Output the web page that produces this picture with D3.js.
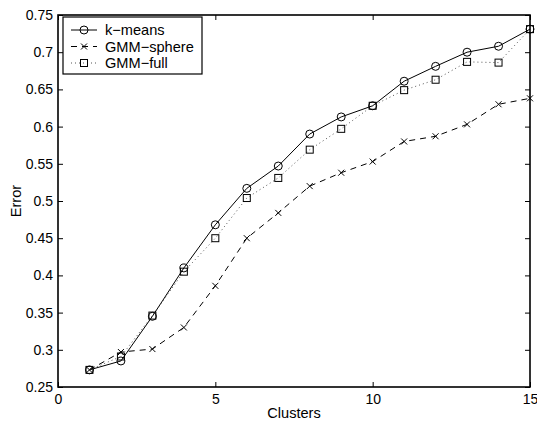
<!DOCTYPE html>
<html>
<head>
<meta charset="utf-8">
<script src="https://cdn.jsdelivr.net/npm/d3@7"></script>
<style>
  body { margin: 0; background: #fff; }
  text { font-family: "Liberation Sans", Arial, sans-serif; fill: #000; }
</style>
</head>
<body>
<div id="chart"></div>
<script>
// data
var clusters = [1, 2, 3, 4, 5, 6, 7, 8, 9, 10, 11, 12, 13, 14, 15];
var kmeans = [0.273, 0.285, 0.345, 0.410, 0.468, 0.517, 0.547, 0.590, 0.613, 0.628, 0.661, 0.681, 0.700, 0.708, 0.731];
var gmmSphere = [0.273, 0.297, 0.301, 0.330, 0.386, 0.450, 0.484, 0.520, 0.538, 0.553, 0.580, 0.587, 0.603, 0.630, 0.638];
var gmmFull = [0.273, 0.291, 0.346, 0.405, 0.450, 0.504, 0.531, 0.569, 0.597, 0.628, 0.649, 0.663, 0.687, 0.686, 0.731];
var seriesNames = ["k\u2212means", "GMM\u2212sphere", "GMM\u2212full"];
var xTicks = [0, 5, 10, 15];
var yTicks = [0.25, 0.3, 0.35, 0.4, 0.45, 0.5, 0.55, 0.6, 0.65, 0.7, 0.75];

var svgWidth = 537, svgHeight = 426;
var margin = { top: 15, right: 7, bottom: 39, left: 58 };
var width = svgWidth - margin.left - margin.right;
var height = svgHeight - margin.top - margin.bottom;

var svg = d3.select("#chart").append("svg")
  .attr("width", svgWidth)
  .attr("height", svgHeight);

var g = svg.append("g")
  .attr("transform", `translate(${margin.left}, ${margin.top})`);

var x = d3.scaleLinear().domain([0, 15]).range([0, width]);
var y = d3.scaleLinear().domain([0.25, 0.75]).range([height, 0]);

// axes, ticks pointing inward, mirrored on top/right
var fmtY = d => String(+d.toFixed(2));
g.append("g").attr("transform", `translate(0, ${height})`)
  .call(d3.axisBottom(x).tickValues(xTicks).tickSizeInner(-5).tickSizeOuter(0).tickPadding(7));
g.append("g")
  .call(d3.axisTop(x).tickValues(xTicks).tickSizeInner(-5).tickSizeOuter(0).tickFormat(""));
g.append("g")
  .call(d3.axisLeft(y).tickValues(yTicks).tickSizeInner(-5).tickSizeOuter(0).tickPadding(5).tickFormat(fmtY));
g.append("g").attr("transform", `translate(${width}, 0)`)
  .call(d3.axisRight(y).tickValues(yTicks).tickSizeInner(-5).tickSizeOuter(0).tickFormat(""));

g.selectAll(".domain").remove();
g.selectAll(".tick line").attr("stroke", "#000").attr("stroke-width", 1);
g.selectAll(".tick text").style("font-size", "14px").attr("fill", "#000");

g.append("rect")
  .attr("width", width).attr("height", height)
  .attr("fill", "none").attr("stroke", "#000").attr("stroke-width", 1.6);

// series
var styles = [
  { values: kmeans, dash: null, color: "#000", marker: "circle" },
  { values: gmmSphere, dash: "6,5", color: "#000", marker: "x" },
  { values: gmmFull, dash: "1,3", color: "#555", marker: "square" }
];

var line = d3.line().x(d => x(d[0])).y(d => y(d[1]));

function drawMarker(sel, type, cx, cy) {
  if (type === "circle") {
    sel.append("circle").attr("cx", cx).attr("cy", cy).attr("r", 4)
      .attr("fill", "none").attr("stroke", "#000").attr("stroke-width", 1);
  } else if (type === "x") {
    sel.append("path")
      .attr("d", `M${cx - 3},${cy - 3}L${cx + 3},${cy + 3}M${cx - 3},${cy + 3}L${cx + 3},${cy - 3}`)
      .attr("stroke", "#000").attr("stroke-width", 1);
  } else {
    sel.append("rect").attr("x", cx - 3.5).attr("y", cy - 3.5).attr("width", 7).attr("height", 7)
      .attr("fill", "none").attr("stroke", "#000").attr("stroke-width", 1);
  }
}

styles.forEach(function(s) {
  var pts = clusters.map((c, i) => [c, s.values[i]]);
  g.append("path").datum(pts)
    .attr("d", line)
    .attr("fill", "none")
    .attr("stroke", s.color)
    .attr("stroke-width", 1)
    .attr("stroke-dasharray", s.dash);
  var mg = g.append("g");
  pts.forEach(p => drawMarker(mg, s.marker, x(p[0]), y(p[1])));
});

// legend
var legend = g.append("g").attr("transform", "translate(5, 2)");
legend.append("rect").attr("width", 139).attr("height", 57)
  .attr("fill", "#fff").attr("stroke", "#000").attr("stroke-width", 1.2);
styles.forEach(function(s, i) {
  var ly = 13 + i * 16.5;
  legend.append("line").attr("x1", 8).attr("x2", 34).attr("y1", ly).attr("y2", ly)
    .attr("stroke", s.color).attr("stroke-width", 1).attr("stroke-dasharray", s.dash);
  drawMarker(legend, s.marker, 21, ly);
  legend.append("text").attr("x", 42).attr("y", ly + 5)
    .style("font-size", "14.6px").text(seriesNames[i]);
});

// axis labels
svg.append("text")
  .attr("x", margin.left + width / 2).attr("y", 418)
  .attr("text-anchor", "middle").style("font-size", "14.6px")
  .text("Clusters");

svg.append("text")
  .attr("transform", `translate(21, ${margin.top + height / 2}) rotate(-90)`)
  .attr("text-anchor", "middle").style("font-size", "14.6px")
  .text("Error");
</script>
</body>
</html>
